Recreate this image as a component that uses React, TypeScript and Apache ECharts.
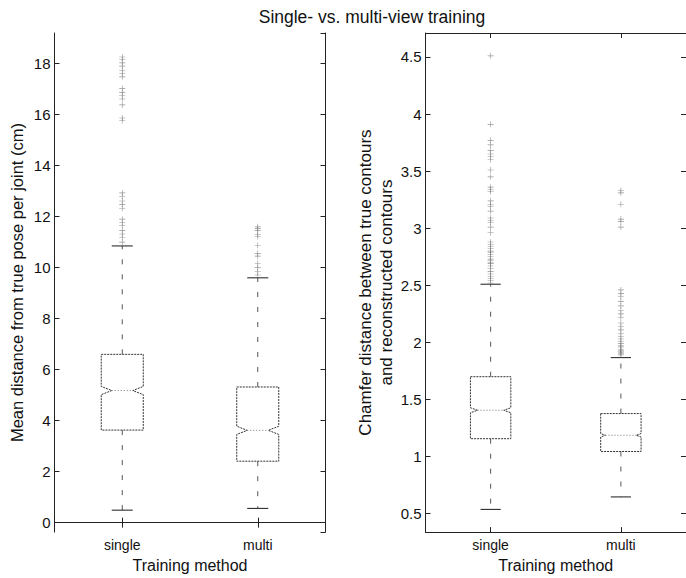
import React, { useEffect, useRef } from "react";
import * as echarts from "echarts";

const categories = ["single", "multi"];

// Left panel: mean distance from true pose per joint (cm)
const poseLowerWhisker = [0.49, 0.56];
const poseQ1 = [3.63, 2.41];
const poseNotchLow = [5.02, 3.46];
const poseMedian = [5.18, 3.62];
const poseNotchHigh = [5.34, 3.78];
const poseQ3 = [6.6, 5.32];
const poseUpperWhisker = [10.85, 9.6];
const poseOutliersSingle = [
  18.26, 18.15, 18.03, 17.9, 17.74, 17.61, 17.48, 17.02, 16.87, 16.74, 16.61,
  16.38, 15.87, 15.77, 12.93, 12.8, 12.61, 12.48, 12.33, 11.9, 11.77, 11.64,
  11.45, 11.32, 11.19, 11.0,
];
const poseOutliersMulti = [
  11.6, 11.53, 11.45, 11.3, 11.22, 10.87, 10.55, 10.45, 10.16, 10.0, 9.84, 9.71,
];

// Right panel: chamfer distance
const chamLowerWhisker = [0.538, 0.647];
const chamQ1 = [1.157, 1.045];
const chamNotchLow = [1.384, 1.172];
const chamMedian = [1.406, 1.187];
const chamNotchHigh = [1.428, 1.202];
const chamQ3 = [1.7, 1.377];
const chamUpperWhisker = [2.51, 1.867];
const chamOutliersSingle = [
  4.51, 3.91, 3.77, 3.73, 3.68, 3.65, 3.63, 3.6, 3.51, 3.45, 3.36, 3.34, 3.32,
  3.24, 3.21, 3.19, 3.15, 3.09, 3.07, 3.05, 3.01, 2.96, 2.88, 2.86, 2.84, 2.82,
  2.8, 2.79, 2.77, 2.75, 2.73, 2.72, 2.7, 2.69, 2.67, 2.65, 2.62, 2.6, 2.58,
  2.56, 2.54, 2.52,
];
const chamOutliersMulti = [
  3.33, 3.31, 3.21, 3.08, 3.06, 3.01, 2.46, 2.43, 2.4, 2.36, 2.32, 2.28, 2.25,
  2.22, 2.17, 2.14, 2.11, 2.08, 2.05, 2.03, 2.01, 1.99, 1.97, 1.96, 1.94, 1.93,
  1.92, 1.91, 1.9, 1.89,
];

const FONT = "Liberation Sans, Arial, Helvetica, sans-serif";

function boxRows(lw: number[], q1: number[], nl: number[], md: number[], nh: number[], q3: number[], uw: number[]) {
  return categories.map((_, i) => [i, lw[i], q1[i], nl[i], md[i], nh[i], q3[i], uw[i]]);
}

function renderBox(params: any, api: any) {
  const i = api.value(0);
  const vals = [1, 2, 3, 4, 5, 6, 7].map((d) => api.value(d));
  const [lw, q1, nl, md, nh, q3, uw] = vals;
  const cx = api.coord([i, md])[0];
  const y = (v: number) => api.coord([i, v])[1];
  const half = api.size([1, 0])[0] * 0.155;
  const ymd = y(md);
  const ynl = y(nl);
  const ynh = y(nh);
  const yq1 = y(q1);
  const yq3 = y(q3);
  const ylw = y(lw);
  const yuw = y(uw);
  const depth = Math.min(half / 2, 2.8 * Math.abs(ynl - ymd));
  const boxStyle = { fill: "none", stroke: "#333", lineWidth: 1, lineDash: [2, 1] };
  const whiskerStyle = { stroke: "#555", lineWidth: 1, lineDash: [5, 10] };
  const capStyle = { stroke: "#1a1a1a", lineWidth: 1 };
  return {
    type: "group",
    children: [
      {
        type: "polygon",
        shape: {
          points: [
            [cx - half, yq3],
            [cx + half, yq3],
            [cx + half, ynh],
            [cx + half - depth, ymd],
            [cx + half, ynl],
            [cx + half, yq1],
            [cx - half, yq1],
            [cx - half, ynl],
            [cx - half + depth, ymd],
            [cx - half, ynh],
          ],
        },
        style: boxStyle,
      },
      {
        type: "line",
        shape: { x1: cx - half + depth, y1: ymd, x2: cx + half - depth, y2: ymd },
        style: { stroke: "#777", lineWidth: 1, lineDash: [1, 2] },
      },
      { type: "line", shape: { x1: cx, y1: yq3, x2: cx, y2: yuw }, style: whiskerStyle },
      { type: "line", shape: { x1: cx, y1: yq1, x2: cx, y2: ylw }, style: whiskerStyle },
      { type: "line", shape: { x1: cx - half / 2, y1: yuw, x2: cx + half / 2, y2: yuw }, style: capStyle },
      { type: "line", shape: { x1: cx - half / 2, y1: ylw, x2: cx + half / 2, y2: ylw }, style: capStyle },
    ],
  };
}

const PLUS = "path://M0,4.5H10V5.5H0Z M4.5,0H5.5V10H4.5Z";

function outlierSeries(values: number[], idx: number, axis: number) {
  return {
    type: "scatter",
    xAxisIndex: axis * 2,
    yAxisIndex: axis * 2,
    symbol: PLUS,
    symbolSize: 6,
    itemStyle: { color: "#7a7a7a" },
    silent: true,
    data: values.map((v) => [idx, v]),
  };
}

export default function App() {
  const ref = useRef<HTMLDivElement>(null);
  useEffect(() => {
    if (!ref.current) return;
    const chart = echarts.init(ref.current, undefined, { renderer: "svg" });
    const axisLine = { show: true, lineStyle: { color: "#222", width: 1 } };
    const tick = { show: true, inside: true, length: 5, alignWithLabel: true, lineStyle: { color: "#222" } };
    const xBottom = (grid: number) => ({
      type: "category",
      gridIndex: grid,
      data: categories,
      position: "bottom",
      boundaryGap: true,
      axisLine,
      axisTick: tick,
      axisLabel: { fontSize: 14, color: "#111", fontFamily: FONT, margin: 6 },
      name: "Training method",
      nameLocation: "middle",
      nameGap: 22,
      nameTextStyle: { fontSize: 16, color: "#111", fontFamily: FONT },
      splitLine: { show: false },
    });
    const xTop = (grid: number) => ({
      type: "category",
      gridIndex: grid,
      data: categories,
      position: "top",
      boundaryGap: true,
      axisLine,
      axisTick: tick,
      axisLabel: { show: false },
      splitLine: { show: false },
    });
    const yLeft = (grid: number, min: number, max: number, split: number, name: string, gap: number, nameSize: number) => ({
      type: "value",
      gridIndex: grid,
      position: "left",
      min,
      max,
      splitNumber: split,
      axisLine,
      axisTick: { show: true, inside: true, length: 5, lineStyle: { color: "#222" } },
      axisLabel: {
        fontSize: 15,
        color: "#111",
        fontFamily: FONT,
        margin: 4,
        showMinLabel: false,
        showMaxLabel: false,
      },
      splitLine: { show: false },
      name,
      nameLocation: "middle",
      nameRotate: 90,
      nameGap: gap,
      nameTextStyle: { fontSize: nameSize, color: "#111", fontFamily: FONT, lineHeight: 21, align: "center" },
    });
    const yRight = (grid: number, min: number, max: number, split: number) => ({
      type: "value",
      gridIndex: grid,
      position: "right",
      min,
      max,
      splitNumber: split,
      axisLine,
      axisTick: { show: true, inside: true, length: 5, lineStyle: { color: "#222" } },
      axisLabel: { show: false },
      splitLine: { show: false },
    });

    chart.setOption({
      animation: false,
      backgroundColor: "#fff",
      graphic: [
        {
          type: "text",
          x: 372,
          y: 17,
          style: {
            text: "Single- vs. multi-view training",
            fontSize: 17.5,
            fontFamily: FONT,
            fill: "#111",
            align: "center",
            verticalAlign: "middle",
          },
        },
      ],
      grid: [
        { left: 54.5, top: 33, width: 271, height: 506 },
        { left: 425.5, top: 33, width: 270, height: 505 },
      ],
      xAxis: [xBottom(0), xTop(0), xBottom(1), xTop(1)],
      yAxis: [
        yLeft(0, -0.37, 19.2, 10, "Mean distance from true pose per joint (cm)", 27, 16.5),
        yRight(0, -0.37, 19.2, 10),
        yLeft(1, 0.339, 4.71, 9, "Chamfer distance between true contours\nand reconstructed contours", 25, 17),
        yRight(1, 0.339, 4.71, 9),
      ],
      series: [
        {
          type: "custom",
          xAxisIndex: 0,
          yAxisIndex: 0,
          renderItem: renderBox,
          encode: { x: 0, y: [1, 2, 3, 4, 5, 6, 7] },
          silent: true,
          data: boxRows(poseLowerWhisker, poseQ1, poseNotchLow, poseMedian, poseNotchHigh, poseQ3, poseUpperWhisker),
        },
        {
          type: "custom",
          xAxisIndex: 2,
          yAxisIndex: 2,
          renderItem: renderBox,
          encode: { x: 0, y: [1, 2, 3, 4, 5, 6, 7] },
          silent: true,
          data: boxRows(chamLowerWhisker, chamQ1, chamNotchLow, chamMedian, chamNotchHigh, chamQ3, chamUpperWhisker),
        },
        outlierSeries(poseOutliersSingle, 0, 0),
        outlierSeries(poseOutliersMulti, 1, 0),
        outlierSeries(chamOutliersSingle, 0, 1),
        outlierSeries(chamOutliersMulti, 1, 1),
      ],
    });
    return () => chart.dispose();
  }, []);
  return (
    <div
      ref={ref}
      style={{ position: "fixed", left: 0, top: 0, width: 686, height: 578, background: "#fff" }}
    />
  );
}
